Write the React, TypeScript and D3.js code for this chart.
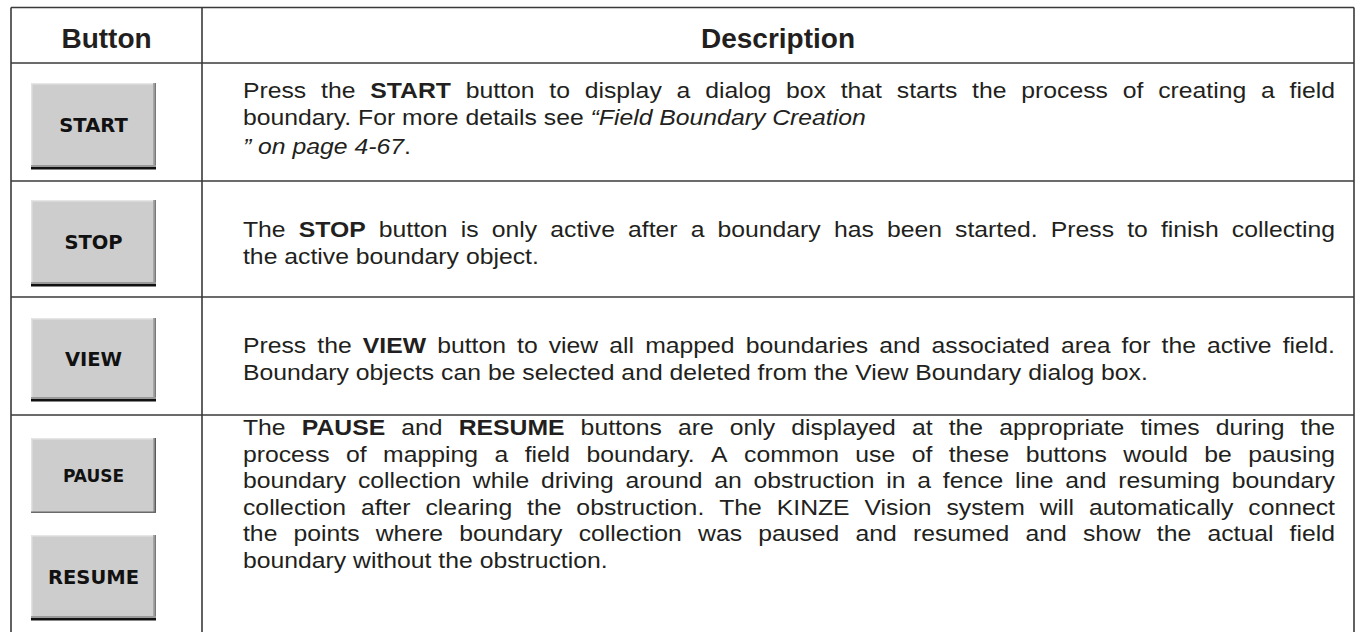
import * as d3 from "d3";
import { useMemo } from "react";

// table content
const headers = ["Button", "Description"];
const buttonLabels: string[][] = [["START"], ["STOP"], ["VIEW"], ["PAUSE", "RESUME"]];
const descriptions: string[][] = [
  [
    "Press the **START** button to display a dialog box that starts the process of creating a field",
    "boundary. For more details see _“Field Boundary Creation_",
    "_” on page 4-67_.",
  ],
  [
    "The **STOP** button is only active after a boundary has been started. Press to finish collecting",
    "the active boundary object.",
  ],
  [
    "Press the **VIEW** button to view all mapped boundaries and associated area for the active field.",
    "Boundary objects can be selected and deleted from the View Boundary dialog box.",
  ],
  [
    "The **PAUSE** and **RESUME** buttons are only displayed at the appropriate times during the",
    "process of mapping a field boundary. A common use of these buttons would be pausing",
    "boundary collection while driving around an obstruction in a fence line and resuming boundary",
    "collection after clearing the obstruction. The KINZE Vision system will automatically connect",
    "the points where boundary collection was paused and resumed and show the actual field",
    "boundary without the obstruction.",
  ],
];
// lines that are not stretched to the full column width
const looseLines: number[][] = [[1, 2], [1], [1], [5]];

const W = 1355;
const H = 632;
const FONT = '"Liberation Sans", Arial, Helvetica, sans-serif';
const FS = 22.5;
const SX = 1.1;
const INK = "#231f20";

type Piece = { text: string; bold: boolean; italic: boolean };

const parseLine = (line: string) => {
  const words: Piece[][] = [[]];
  line
    .split(/(\*\*[^*]+\*\*|_[^_]+_)/)
    .filter(Boolean)
    .forEach((p) => {
      const bold = p.startsWith("**");
      const italic = !bold && p.startsWith("_");
      const txt = bold ? p.slice(2, -2) : italic ? p.slice(1, -1) : p;
      txt.split(/( )/).forEach((tok) => {
        if (tok === " ") {
          if (words[words.length - 1].length) words.push([]);
        } else if (tok) words[words.length - 1].push({ text: tok, bold, italic });
      });
    });
  return words.filter((w) => w.length);
};

const Button = ({
  x,
  y,
  w,
  h,
  label,
  flat,
}: {
  x: number;
  y: number;
  w: number;
  h: number;
  label: string;
  flat?: boolean;
}) => (
  <g>
    <rect x={x} y={y} width={w} height={h} fill="#cdcdcd" />
    <rect x={x} y={y} width={w} height={1.5} fill="#e6e6e6" />
    <rect x={x} y={y} width={1.5} height={h} fill="#e2e2e2" />
    <rect x={x + w - 3} y={y} width={1.5} height={h} fill="#a5a5a5" />
    <rect x={x + w - 1.5} y={y} width={1.5} height={h} fill={flat ? "#5a5a5a" : "#7a7a7a"} />
    {flat ? (
      <rect x={x} y={y + h - 1.5} width={w} height={1.5} fill="#6a6a6a" />
    ) : (
      <>
        <rect x={x} y={y + h - 2} width={w} height={2} fill="#9a9a9a" />
        <rect x={x} y={y + h} width={w} height={2.5} fill="#111" />
      </>
    )}
    <text
      x={x + w / 2}
      y={y + h / 2}
      dy="0.36em"
      textAnchor="middle"
      fontFamily='"DejaVu Sans", sans-serif'
      fontWeight="bold"
      fontSize={flat ? 17 : 19.5}
      fill="#111"
    >
      {label}
    </text>
  </g>
);

export default function App() {
  const colX = [11, 202, 1354];
  const rowEdges = [7.5, 63, 181, 297, 415, 660];
  const textLeft = 243;
  const textRight = 1335;
  const lineStep = 26.5;
  const firstBaseline = [35, 56, 56, 20];
  const buttonSlots = [[{ dy: 20, h: 84 }], [{ dy: 19, h: 84 }], [{ dy: 21, h: 81 }], [{ dy: 23, h: 75 }, { dy: 120, h: 83 }]];
  const extraGap = [[0, 0, 3], [0, 0], [0, 0], [0, 0, 0, 0, 0, 0]];

  const layout = useMemo(() => {
    const ctx = document.createElement("canvas").getContext("2d")!;
    const measure = (p: Piece) => {
      ctx.font = `${p.italic ? "italic " : ""}${p.bold ? "bold " : ""}${FS}px ${FONT}`;
      return ctx.measureText(p.text).width;
    };
    ctx.font = `${FS}px ${FONT}`;
    const space = ctx.measureText(" ").width;
    const avail = (textRight - textLeft) / SX;
    return descriptions.map((lines, ri) =>
      lines.map((line, li) => {
        const words = parseLine(line).map((pieces) => ({
          pieces,
          width: d3.sum(pieces, measure),
        }));
        const total = d3.sum(words, (w) => w.width);
        const loose = looseLines[ri].includes(li) || words.length < 2;
        const gap = loose ? space : (avail - total) / (words.length - 1);
        let cx = 0;
        return words.map((w) => {
          const pos = cx;
          cx += w.width + gap;
          return { ...w, x: pos };
        });
      })
    );
  }, []);

  const rows = d3.pairs(rowEdges);

  return (
    <svg
      width={W}
      height={H}
      style={{ position: "absolute", left: 0, top: 0, background: "#fff" }}
    >
      {/* header */}
      {headers.map((hd, i) => (
        <text
          key={hd}
          x={(colX[i] + colX[i + 1]) / 2}
          y={48}
          textAnchor="middle"
          fontFamily={FONT}
          fontWeight="bold"
          fontSize={28}
          fill={INK}
        >
          {hd}
        </text>
      ))}

      {/* descriptions */}
      {layout.map((lines, ri) => {
        const top = rows[ri + 1][0];
        let y = top + firstBaseline[ri];
        return lines.map((words, li) => {
          y += li === 0 ? 0 : lineStep + extraGap[ri][li];
          return (
            <g
              key={`${ri}-${li}`}
              transform={`translate(${textLeft},${y}) scale(${SX},1)`}
              fontFamily={FONT}
              fontSize={FS}
              fill={INK}
            >
              {words.map((w, wi) => (
                <text key={wi} x={w.x} y={0}>
                  {w.pieces.map((p, pi) => (
                    <tspan
                      key={pi}
                      fontWeight={p.bold ? "bold" : "normal"}
                      fontStyle={p.italic ? "italic" : "normal"}
                    >
                      {p.text}
                    </tspan>
                  ))}
                </text>
              ))}
            </g>
          );
        });
      })}

      {/* buttons */}
      {buttonLabels.map((labels, ri) =>
        labels.map((label, bi) => {
          const slot = buttonSlots[ri][bi];
          return (
            <Button
              key={label}
              x={31}
              y={rows[ri + 1][0] + slot.dy}
              w={125}
              h={slot.h}
              label={label}
              flat={label === "PAUSE"}
            />
          );
        })
      )}

      {/* grid */}
      <g stroke="#3a3a3a" strokeWidth={1.6} fill="none">
        {rowEdges.slice(0, -1).map((y) => (
          <line key={y} x1={colX[0]} x2={colX[2]} y1={y} y2={y} />
        ))}
        {colX.map((x) => (
          <line key={x} x1={x} x2={x} y1={rowEdges[0]} y2={H + 10} />
        ))}
      </g>
    </svg>
  );
}
